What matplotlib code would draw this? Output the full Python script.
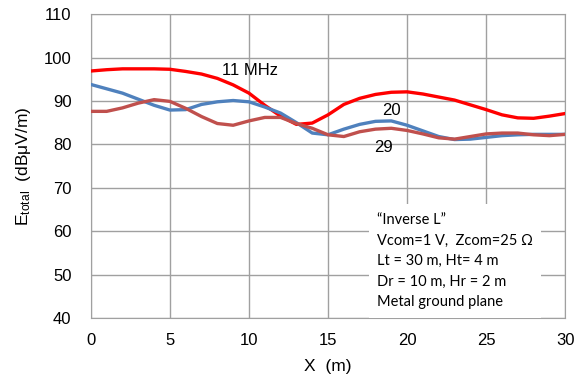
import matplotlib

matplotlib.use("Agg")
import matplotlib.pyplot as plt


# Поле E_total вдоль линии X для трех частот.
x_m = list(range(0, 31))

e_11mhz = [96.9, 97.2, 97.4, 97.4, 97.4, 97.3, 96.8, 96.2, 95.2, 93.7, 91.8, 89.0,
           86.5, 84.6, 84.9, 86.8, 89.2, 90.6, 91.5, 92.0, 92.1, 91.6, 90.9, 90.2,
           89.1, 88.0, 86.8, 86.1, 86.0, 86.5, 87.1]
e_20mhz = [93.8, 92.8, 91.8, 90.4, 89.0, 87.9, 88.0, 89.2, 89.8, 90.1, 89.8, 88.6,
           87.2, 85.0, 82.6, 82.2, 83.5, 84.6, 85.3, 85.4, 84.4, 83.1, 81.8, 81.1,
           81.2, 81.6, 82.0, 82.2, 82.3, 82.3, 82.3]
e_29mhz = [87.6, 87.6, 88.4, 89.5, 90.3, 89.9, 88.3, 86.4, 84.8, 84.4, 85.4, 86.2,
           86.2, 84.8, 83.7, 82.2, 81.8, 82.9, 83.5, 83.7, 83.2, 82.4, 81.5, 81.2,
           81.8, 82.4, 82.6, 82.6, 82.2, 82.0, 82.3]

x_ticks = [0, 5, 10, 15, 20, 25, 30]
y_ticks = [40, 50, 60, 70, 80, 90, 100, 110]

info_lines = [
    "\u201cInverse L\u201d",
    "Vcom=1 V,  Zcom=25 \u03a9",
    "Lt = 30 m, Ht= 4 m",
    "Dr = 10 m, Hr = 2 m",
    "Metal ground plane",
]

plt.rcParams["font.family"] = ["Liberation Sans", "DejaVu Sans"]

fig = plt.figure(figsize=(5.75, 3.83), dpi=100)
ax = fig.add_axes([0.158, 0.170, 0.825, 0.793])

ax.plot(x_m, e_11mhz, color="#FF0000", lw=2.4, zorder=3)
ax.plot(x_m, e_20mhz, color="#4F81BD", lw=2.4, zorder=3)
ax.plot(x_m, e_29mhz, color="#C0504D", lw=2.4, zorder=4)

ax.set_xlim(0, 30)
ax.set_ylim(40, 110)
ax.set_xticks(x_ticks)
ax.set_yticks(y_ticks)
ax.tick_params(length=0, labelsize=12, pad=11)
ax.tick_params(axis="y", pad=14)
ax.grid(True, color="#A0A0A0", lw=1.0)
for sp in ax.spines.values():
    sp.set_color("#A0A0A0")

ax.set_xlabel("X  (m)", fontsize=12.5, labelpad=8)
ax.set_ylabel("$\\mathregular{E_{total}}$  (dB\u03bcV/m)", fontsize=12.5, labelpad=8)

# Подписи кривых
ax.text(8.3, 97.1, "11 MHz", fontsize=12, va="center", ha="left", zorder=5)
ax.text(19.0, 87.9, "20", fontsize=12, va="center", ha="center", zorder=5)
ax.text(18.5, 79.2, "29", fontsize=12, va="center", ha="center", zorder=5)

# Блок с параметрами поверх сетки
ax.text(18.1, 42.0, "\n".join(info_lines), fontsize=10.5, family=["Lato", "DejaVu Sans"],
        va="bottom", ha="left", linespacing=1.6, zorder=5,
        bbox=dict(facecolor="white", edgecolor="none", pad=6))

fig.savefig("out.png", dpi=100)
